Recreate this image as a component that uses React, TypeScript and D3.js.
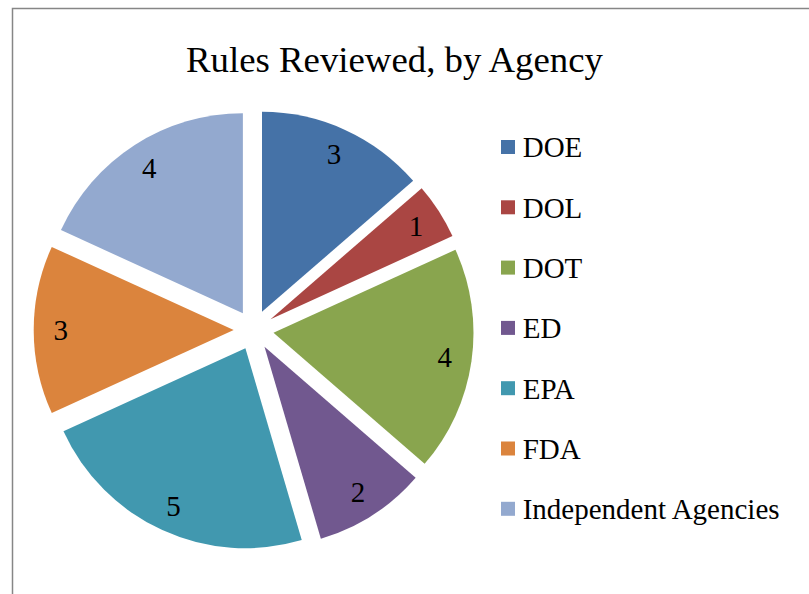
import React from "react";
import * as d3 from "d3";

const categories = ["DOE", "DOL", "DOT", "ED", "EPA", "FDA", "Independent Agencies"];
const values = [3, 1, 4, 2, 5, 3, 4];
const colors = ["#4572A7", "#AA4643", "#89A54E", "#71588F", "#4198AF", "#DB843D", "#93A9CF"];
const title = "Rules Reviewed, by Agency";

const W = 809;
const H = 594;
const cx = 253.7;
const cy = 330;
const R = 200;
const explode = 20;
const labelDist = 193;
const font = "Liberation Serif, Times New Roman, serif";

export default function App() {
  const pie = d3.pie<number>().sort(null).value((d) => d);
  const arcs = pie(values);
  const arcGen = d3.arc<d3.PieArcDatum<number>>().innerRadius(0).outerRadius(R);

  const legendX = 501;
  const legendY0 = 157.3;
  const legendStep = 60.3;

  return (
    <svg
      width={W}
      height={H}
      style={{ position: "absolute", left: 0, top: 0, background: "#fff" }}
    >
      <rect x={0} y={0} width={W} height={H} fill="#fff" />
      <rect x={12.5} y={8.5} width={W + 50} height={H + 50} fill="#fff" stroke="#868686" strokeWidth={1.5} />
      <text x={394.5} y={71.7} textAnchor="middle" fontFamily={font} fontSize={36.8} fill="#000">
        {title}
      </text>
      <g>
        {arcs.map((a, i) => {
          const mid = (a.startAngle + a.endAngle) / 2;
          const ox = explode * Math.sin(mid);
          const oy = -explode * Math.cos(mid);
          return (
            <path
              key={categories[i]}
              d={arcGen(a) || ""}
              transform={`translate(${cx + ox},${cy + oy})`}
              fill={colors[i]}
            />
          );
        })}
        {arcs.map((a, i) => {
          const mid = (a.startAngle + a.endAngle) / 2;
          const lx = cx + labelDist * Math.sin(mid);
          const ly = cy - labelDist * Math.cos(mid);
          return (
            <text
              key={"l" + i}
              x={lx}
              y={ly + 10}
              textAnchor="middle"
              fontFamily={font}
              fontSize={29}
              fill="#000"
            >
              {values[i]}
            </text>
          );
        })}
      </g>
      <g>
        {categories.map((c, i) => {
          const by = legendY0 + i * legendStep;
          return (
            <g key={c}>
              <rect x={legendX} y={by - 17.3} width={14} height={14} fill={colors[i]} />
              <text x={522.7} y={by} fontFamily={font} fontSize={29} fill="#000">
                {c}
              </text>
            </g>
          );
        })}
      </g>
    </svg>
  );
}
